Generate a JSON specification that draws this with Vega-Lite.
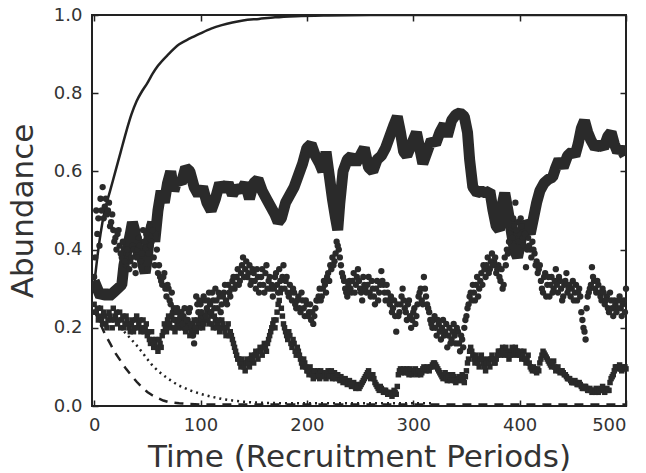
{
  "$schema": "https://vega.github.io/schema/vega-lite/v6.json",
  "width": 534,
  "height": 391,
  "autosize": {"type": "none"},
  "padding": {"left": 92, "top": 15, "right": 20, "bottom": 67},
  "background": "white",
  "config": {
    "view": {"stroke": "#222", "strokeWidth": 2},
    "axis": {
      "domain": false, "grid": false, "tickColor": "#222", "tickWidth": 1.5, "tickSize": -6,
      "labelFont": "DejaVu Sans", "labelFontSize": 18, "labelColor": "#333",
      "titleFont": "DejaVu Sans", "titleFontSize": 31, "titleFontWeight": "normal", "titleColor": "#333"
    }
  },
  "datasets": {
    "logistic": [
      {"t":0,"v":0.31},{"t":3,"v":0.38},{"t":6,"v":0.44},{"t":10,"v":0.50},{"t":15,"v":0.55},{"t":20,"v":0.60},{"t":25,"v":0.65},{"t":30,"v":0.70},{"t":35,"v":0.745},{"t":40,"v":0.78},{"t":45,"v":0.805},{"t":50,"v":0.826},{"t":55,"v":0.85},{"t":60,"v":0.87},{"t":70,"v":0.90},{"t":80,"v":0.925},{"t":90,"v":0.94},{"t":100,"v":0.953},{"t":110,"v":0.965},{"t":120,"v":0.974},{"t":130,"v":0.981},{"t":140,"v":0.986},{"t":155,"v":0.99},{"t":170,"v":0.994},{"t":190,"v":0.997},{"t":220,"v":0.999},{"t":260,"v":1.0},{"t":500,"v":1.0}
    ],
    "dashed": [
      {"t":0,"v":0.245},{"t":5,"v":0.215},{"t":10,"v":0.185},{"t":15,"v":0.16},{"t":20,"v":0.135},{"t":25,"v":0.115},{"t":30,"v":0.095},{"t":35,"v":0.078},{"t":40,"v":0.062},{"t":45,"v":0.048},{"t":50,"v":0.036},{"t":55,"v":0.027},{"t":60,"v":0.02},{"t":65,"v":0.014},{"t":70,"v":0.01},{"t":80,"v":0.007},{"t":90,"v":0.005},{"t":100,"v":0.004},{"t":150,"v":0.004},{"t":500,"v":0.004}
    ],
    "dotted": [
      {"t":0,"v":0.265},{"t":5,"v":0.255},{"t":10,"v":0.24},{"t":15,"v":0.228},{"t":20,"v":0.215},{"t":25,"v":0.2},{"t":30,"v":0.185},{"t":35,"v":0.17},{"t":40,"v":0.155},{"t":45,"v":0.138},{"t":50,"v":0.12},{"t":55,"v":0.103},{"t":60,"v":0.09},{"t":65,"v":0.079},{"t":70,"v":0.069},{"t":75,"v":0.06},{"t":80,"v":0.052},{"t":90,"v":0.04},{"t":100,"v":0.031},{"t":110,"v":0.024},{"t":120,"v":0.018},{"t":130,"v":0.014},{"t":140,"v":0.011},{"t":150,"v":0.009},{"t":160,"v":0.008},{"t":180,"v":0.007},{"t":200,"v":0.007},{"t":250,"v":0.007},{"t":320,"v":0.007}
    ],
    "thick": [
      {"t":0,"v":0.32},{"t":3,"v":0.30},{"t":6,"v":0.28},{"t":10,"v":0.29},{"t":14,"v":0.28},{"t":18,"v":0.29},{"t":22,"v":0.30},{"t":26,"v":0.31},{"t":28,"v":0.36},{"t":31,"v":0.40},{"t":34,"v":0.44},{"t":36,"v":0.47},{"t":38,"v":0.45},{"t":40,"v":0.42},{"t":42,"v":0.38},{"t":44,"v":0.40},{"t":46,"v":0.36},{"t":48,"v":0.34},{"t":50,"v":0.38},{"t":52,"v":0.44},{"t":55,"v":0.47},{"t":57,"v":0.42},{"t":60,"v":0.50},{"t":63,"v":0.55},{"t":66,"v":0.52},{"t":69,"v":0.57},{"t":72,"v":0.60},{"t":75,"v":0.55},{"t":78,"v":0.58},{"t":82,"v":0.57},{"t":86,"v":0.61},{"t":90,"v":0.60},{"t":94,"v":0.56},{"t":98,"v":0.54},{"t":102,"v":0.56},{"t":106,"v":0.52},{"t":110,"v":0.50},{"t":114,"v":0.53},{"t":118,"v":0.57},{"t":122,"v":0.55},{"t":126,"v":0.57},{"t":130,"v":0.54},{"t":134,"v":0.56},{"t":138,"v":0.55},{"t":142,"v":0.57},{"t":146,"v":0.53},{"t":150,"v":0.57},{"t":154,"v":0.58},{"t":158,"v":0.55},{"t":162,"v":0.53},{"t":166,"v":0.51},{"t":170,"v":0.49},{"t":173,"v":0.47},{"t":176,"v":0.48},{"t":180,"v":0.52},{"t":184,"v":0.54},{"t":188,"v":0.56},{"t":192,"v":0.59},{"t":196,"v":0.62},{"t":200,"v":0.66},{"t":204,"v":0.67},{"t":208,"v":0.64},{"t":212,"v":0.62},{"t":215,"v":0.60},{"t":218,"v":0.65},{"t":221,"v":0.59},{"t":224,"v":0.53},{"t":227,"v":0.48},{"t":229,"v":0.45},{"t":231,"v":0.52},{"t":234,"v":0.60},{"t":238,"v":0.63},{"t":242,"v":0.64},{"t":246,"v":0.62},{"t":250,"v":0.64},{"t":254,"v":0.66},{"t":258,"v":0.61},{"t":262,"v":0.60},{"t":266,"v":0.63},{"t":270,"v":0.64},{"t":274,"v":0.66},{"t":278,"v":0.69},{"t":282,"v":0.72},{"t":285,"v":0.74},{"t":288,"v":0.70},{"t":291,"v":0.65},{"t":294,"v":0.64},{"t":297,"v":0.66},{"t":300,"v":0.68},{"t":303,"v":0.70},{"t":306,"v":0.66},{"t":309,"v":0.62},{"t":313,"v":0.65},{"t":317,"v":0.68},{"t":321,"v":0.67},{"t":325,"v":0.70},{"t":329,"v":0.72},{"t":332,"v":0.69},{"t":336,"v":0.73},{"t":340,"v":0.745},{"t":344,"v":0.75},{"t":348,"v":0.74},{"t":351,"v":0.70},{"t":353,"v":0.63},{"t":356,"v":0.56},{"t":360,"v":0.545},{"t":364,"v":0.55},{"t":368,"v":0.545},{"t":372,"v":0.55},{"t":375,"v":0.50},{"t":378,"v":0.46},{"t":381,"v":0.45},{"t":384,"v":0.52},{"t":386,"v":0.545},{"t":389,"v":0.50},{"t":392,"v":0.45},{"t":395,"v":0.40},{"t":398,"v":0.38},{"t":401,"v":0.42},{"t":404,"v":0.47},{"t":407,"v":0.46},{"t":410,"v":0.44},{"t":413,"v":0.48},{"t":416,"v":0.52},{"t":419,"v":0.55},{"t":423,"v":0.57},{"t":427,"v":0.58},{"t":431,"v":0.585},{"t":434,"v":0.61},{"t":437,"v":0.63},{"t":441,"v":0.61},{"t":445,"v":0.64},{"t":449,"v":0.65},{"t":452,"v":0.64},{"t":455,"v":0.67},{"t":458,"v":0.71},{"t":461,"v":0.73},{"t":464,"v":0.70},{"t":467,"v":0.68},{"t":471,"v":0.66},{"t":475,"v":0.67},{"t":479,"v":0.66},{"t":483,"v":0.69},{"t":486,"v":0.70},{"t":489,"v":0.67},{"t":492,"v":0.65},{"t":495,"v":0.66},{"t":499,"v":0.64}
    ],
    "circles": [
      {"t":0,"v":0.33},{"t":1,"v":0.38},{"t":2,"v":0.50},{"t":3,"v":0.44},{"t":4,"v":0.48},{"t":5,"v":0.41},{"t":6,"v":0.53},{"t":7,"v":0.50},{"t":8,"v":0.56},{"t":9,"v":0.48},{"t":10,"v":0.51},{"t":12,"v":0.49},{"t":14,"v":0.52},{"t":16,"v":0.47},{"t":18,"v":0.45},{"t":20,"v":0.43},{"t":22,"v":0.44},{"t":24,"v":0.41},{"t":26,"v":0.38},{"t":28,"v":0.40},{"t":30,"v":0.36},{"t":32,"v":0.39},{"t":34,"v":0.37},{"t":36,"v":0.41},{"t":38,"v":0.36},{"t":40,"v":0.38},{"t":42,"v":0.43},{"t":44,"v":0.37},{"t":46,"v":0.45},{"t":48,"v":0.40},{"t":50,"v":0.35},{"t":52,"v":0.46},{"t":54,"v":0.42},{"t":56,"v":0.38},{"t":58,"v":0.44},{"t":60,"v":0.34},{"t":62,"v":0.33},{"t":64,"v":0.31},{"t":66,"v":0.34},{"t":68,"v":0.28},{"t":70,"v":0.30},{"t":72,"v":0.26},{"t":74,"v":0.24},{"t":76,"v":0.22},{"t":78,"v":0.25},{"t":80,"v":0.21},{"t":82,"v":0.24},{"t":84,"v":0.23},{"t":86,"v":0.20},{"t":88,"v":0.22},{"t":90,"v":0.25},{"t":92,"v":0.19},{"t":94,"v":0.16},{"t":96,"v":0.28},{"t":98,"v":0.24},{"t":100,"v":0.26},{"t":102,"v":0.23},{"t":104,"v":0.27},{"t":106,"v":0.25},{"t":108,"v":0.29},{"t":110,"v":0.24},{"t":112,"v":0.27},{"t":114,"v":0.30},{"t":116,"v":0.25},{"t":118,"v":0.28},{"t":120,"v":0.26},{"t":122,"v":0.29},{"t":124,"v":0.27},{"t":126,"v":0.31},{"t":128,"v":0.28},{"t":130,"v":0.32},{"t":132,"v":0.30},{"t":134,"v":0.33},{"t":136,"v":0.31},{"t":138,"v":0.34},{"t":140,"v":0.38},{"t":142,"v":0.35},{"t":144,"v":0.33},{"t":146,"v":0.36},{"t":148,"v":0.32},{"t":150,"v":0.34},{"t":152,"v":0.30},{"t":154,"v":0.33},{"t":156,"v":0.31},{"t":158,"v":0.35},{"t":160,"v":0.29},{"t":162,"v":0.36},{"t":164,"v":0.32},{"t":166,"v":0.30},{"t":168,"v":0.28},{"t":170,"v":0.33},{"t":172,"v":0.31},{"t":174,"v":0.35},{"t":176,"v":0.30},{"t":178,"v":0.36},{"t":180,"v":0.32},{"t":182,"v":0.29},{"t":184,"v":0.31},{"t":186,"v":0.27},{"t":188,"v":0.29},{"t":190,"v":0.25},{"t":192,"v":0.28},{"t":194,"v":0.24},{"t":196,"v":0.27},{"t":198,"v":0.23},{"t":200,"v":0.26},{"t":202,"v":0.24},{"t":204,"v":0.22},{"t":206,"v":0.21},{"t":208,"v":0.25},{"t":210,"v":0.27},{"t":212,"v":0.30},{"t":214,"v":0.28},{"t":216,"v":0.32},{"t":218,"v":0.29},{"t":220,"v":0.34},{"t":222,"v":0.36},{"t":224,"v":0.38},{"t":226,"v":0.37},{"t":228,"v":0.42},{"t":230,"v":0.40},{"t":232,"v":0.36},{"t":234,"v":0.33},{"t":236,"v":0.30},{"t":238,"v":0.28},{"t":240,"v":0.32},{"t":242,"v":0.29},{"t":244,"v":0.34},{"t":246,"v":0.31},{"t":248,"v":0.35},{"t":250,"v":0.30},{"t":252,"v":0.27},{"t":254,"v":0.31},{"t":256,"v":0.29},{"t":258,"v":0.33},{"t":260,"v":0.28},{"t":262,"v":0.30},{"t":264,"v":0.26},{"t":266,"v":0.32},{"t":268,"v":0.29},{"t":270,"v":0.345},{"t":272,"v":0.31},{"t":274,"v":0.27},{"t":276,"v":0.29},{"t":278,"v":0.26},{"t":280,"v":0.24},{"t":282,"v":0.27},{"t":284,"v":0.19},{"t":286,"v":0.23},{"t":288,"v":0.26},{"t":290,"v":0.30},{"t":292,"v":0.25},{"t":294,"v":0.22},{"t":296,"v":0.27},{"t":298,"v":0.20},{"t":300,"v":0.24},{"t":302,"v":0.21},{"t":304,"v":0.26},{"t":306,"v":0.29},{"t":308,"v":0.27},{"t":310,"v":0.33},{"t":312,"v":0.28},{"t":314,"v":0.25},{"t":316,"v":0.22},{"t":318,"v":0.20},{"t":320,"v":0.23},{"t":322,"v":0.18},{"t":324,"v":0.21},{"t":326,"v":0.17},{"t":328,"v":0.22},{"t":330,"v":0.19},{"t":332,"v":0.15},{"t":334,"v":0.20},{"t":336,"v":0.17},{"t":338,"v":0.21},{"t":340,"v":0.16},{"t":342,"v":0.19},{"t":344,"v":0.14},{"t":346,"v":0.17},{"t":348,"v":0.20},{"t":350,"v":0.23},{"t":352,"v":0.26},{"t":354,"v":0.29},{"t":356,"v":0.31},{"t":358,"v":0.27},{"t":360,"v":0.33},{"t":362,"v":0.30},{"t":364,"v":0.34},{"t":366,"v":0.36},{"t":368,"v":0.33},{"t":370,"v":0.38},{"t":372,"v":0.35},{"t":374,"v":0.39},{"t":376,"v":0.37},{"t":378,"v":0.34},{"t":380,"v":0.36},{"t":382,"v":0.32},{"t":384,"v":0.30},{"t":386,"v":0.38},{"t":388,"v":0.40},{"t":390,"v":0.42},{"t":392,"v":0.45},{"t":394,"v":0.48},{"t":396,"v":0.52},{"t":398,"v":0.47},{"t":400,"v":0.44},{"t":402,"v":0.46},{"t":404,"v":0.41},{"t":406,"v":0.355},{"t":408,"v":0.43},{"t":410,"v":0.40},{"t":412,"v":0.42},{"t":414,"v":0.39},{"t":416,"v":0.37},{"t":418,"v":0.35},{"t":420,"v":0.32},{"t":422,"v":0.29},{"t":424,"v":0.34},{"t":426,"v":0.31},{"t":428,"v":0.28},{"t":430,"v":0.33},{"t":432,"v":0.30},{"t":434,"v":0.35},{"t":436,"v":0.29},{"t":438,"v":0.32},{"t":440,"v":0.27},{"t":442,"v":0.31},{"t":444,"v":0.34},{"t":446,"v":0.30},{"t":448,"v":0.28},{"t":450,"v":0.32},{"t":452,"v":0.29},{"t":454,"v":0.27},{"t":456,"v":0.30},{"t":458,"v":0.24},{"t":460,"v":0.20},{"t":462,"v":0.17},{"t":464,"v":0.28},{"t":466,"v":0.30},{"t":468,"v":0.355},{"t":470,"v":0.32},{"t":472,"v":0.29},{"t":474,"v":0.31},{"t":476,"v":0.28},{"t":478,"v":0.30},{"t":480,"v":0.26},{"t":482,"v":0.28},{"t":484,"v":0.24},{"t":486,"v":0.27},{"t":488,"v":0.23},{"t":490,"v":0.26},{"t":492,"v":0.25},{"t":494,"v":0.28},{"t":496,"v":0.23},{"t":498,"v":0.27},{"t":500,"v":0.30},
      {"t":11,"v":0.53},{"t":13,"v":0.50},{"t":15,"v":0.46},{"t":17,"v":0.49},{"t":19,"v":0.42},{"t":21,"v":0.40},{"t":23,"v":0.45},{"t":25,"v":0.39},{"t":27,"v":0.42},{"t":29,"v":0.37},{"t":31,"v":0.40},{"t":33,"v":0.35},{"t":35,"v":0.38},{"t":37,"v":0.40},{"t":39,"v":0.34},{"t":41,"v":0.40},{"t":43,"v":0.41},{"t":45,"v":0.39},{"t":47,"v":0.42},{"t":49,"v":0.44},{"t":51,"v":0.39},{"t":53,"v":0.41},{"t":55,"v":0.45},{"t":57,"v":0.36},{"t":59,"v":0.40},{"t":61,"v":0.36},{"t":63,"v":0.32},{"t":65,"v":0.33},{"t":67,"v":0.30},{"t":69,"v":0.31},{"t":71,"v":0.27},{"t":73,"v":0.29},{"t":75,"v":0.25},{"t":77,"v":0.24},{"t":79,"v":0.22},{"t":81,"v":0.23},{"t":83,"v":0.21},{"t":85,"v":0.25},{"t":87,"v":0.22},{"t":89,"v":0.24},{"t":91,"v":0.21},{"t":93,"v":0.18},{"t":95,"v":0.20},{"t":97,"v":0.26},{"t":99,"v":0.27},{"t":101,"v":0.24},{"t":103,"v":0.28},{"t":105,"v":0.23},{"t":107,"v":0.27},{"t":109,"v":0.26},{"t":111,"v":0.29},{"t":113,"v":0.25},{"t":115,"v":0.27},{"t":117,"v":0.29},{"t":119,"v":0.24},{"t":121,"v":0.28},{"t":123,"v":0.31},{"t":125,"v":0.26},{"t":127,"v":0.29},{"t":129,"v":0.30},{"t":131,"v":0.33},{"t":133,"v":0.31},{"t":135,"v":0.35},{"t":137,"v":0.32},{"t":139,"v":0.36},{"t":141,"v":0.33},{"t":143,"v":0.37},{"t":145,"v":0.34},{"t":147,"v":0.31},{"t":149,"v":0.35},{"t":151,"v":0.32},{"t":153,"v":0.35},{"t":155,"v":0.29},{"t":157,"v":0.33},{"t":159,"v":0.31},{"t":161,"v":0.34},{"t":163,"v":0.30},{"t":165,"v":0.33},{"t":167,"v":0.31},{"t":169,"v":0.30},{"t":171,"v":0.34},{"t":173,"v":0.29},{"t":175,"v":0.32},{"t":177,"v":0.33},{"t":179,"v":0.30},{"t":181,"v":0.33},{"t":183,"v":0.28},{"t":185,"v":0.29},{"t":187,"v":0.30},{"t":189,"v":0.26},{"t":191,"v":0.27},{"t":193,"v":0.25},{"t":195,"v":0.29},{"t":197,"v":0.25},{"t":199,"v":0.27},{"t":201,"v":0.23},{"t":203,"v":0.26},{"t":205,"v":0.24},{"t":207,"v":0.23},{"t":209,"v":0.27},{"t":211,"v":0.28},{"t":213,"v":0.27},{"t":215,"v":0.30},{"t":217,"v":0.31},{"t":219,"v":0.33},{"t":221,"v":0.32},{"t":223,"v":0.35},{"t":225,"v":0.36},{"t":227,"v":0.39},{"t":229,"v":0.41},{"t":231,"v":0.38},{"t":233,"v":0.34},{"t":235,"v":0.32},{"t":237,"v":0.29},{"t":239,"v":0.31},{"t":241,"v":0.30},{"t":243,"v":0.32},{"t":245,"v":0.29},{"t":247,"v":0.33},{"t":249,"v":0.32},{"t":251,"v":0.29},{"t":253,"v":0.33},{"t":255,"v":0.30},{"t":257,"v":0.31},{"t":259,"v":0.29},{"t":261,"v":0.32},{"t":263,"v":0.28},{"t":265,"v":0.30},{"t":267,"v":0.27},{"t":269,"v":0.31},{"t":271,"v":0.32},{"t":273,"v":0.29},{"t":275,"v":0.31},{"t":277,"v":0.27},{"t":279,"v":0.28},{"t":281,"v":0.25},{"t":283,"v":0.23},{"t":285,"v":0.26},{"t":287,"v":0.24},{"t":289,"v":0.28},{"t":291,"v":0.27},{"t":293,"v":0.24},{"t":295,"v":0.26},{"t":297,"v":0.23},{"t":299,"v":0.22},{"t":301,"v":0.25},{"t":303,"v":0.23},{"t":305,"v":0.28},{"t":307,"v":0.30},{"t":309,"v":0.26},{"t":311,"v":0.30},{"t":313,"v":0.26},{"t":315,"v":0.24},{"t":317,"v":0.21},{"t":319,"v":0.22},{"t":321,"v":0.20},{"t":323,"v":0.22},{"t":325,"v":0.19},{"t":327,"v":0.20},{"t":329,"v":0.18},{"t":331,"v":0.21},{"t":333,"v":0.18},{"t":335,"v":0.16},{"t":337,"v":0.19},{"t":339,"v":0.18},{"t":341,"v":0.20},{"t":343,"v":0.16},{"t":345,"v":0.18},{"t":347,"v":0.15},{"t":349,"v":0.22},{"t":351,"v":0.25},{"t":353,"v":0.28},{"t":355,"v":0.27},{"t":357,"v":0.29},{"t":359,"v":0.31},{"t":361,"v":0.28},{"t":363,"v":0.32},{"t":365,"v":0.31},{"t":367,"v":0.35},{"t":369,"v":0.36},{"t":371,"v":0.34},{"t":373,"v":0.37},{"t":375,"v":0.36},{"t":377,"v":0.38},{"t":379,"v":0.35},{"t":381,"v":0.33},{"t":383,"v":0.35},{"t":385,"v":0.31},{"t":387,"v":0.36},{"t":389,"v":0.39},{"t":391,"v":0.44},{"t":393,"v":0.43},{"t":395,"v":0.46},{"t":397,"v":0.45},{"t":399,"v":0.42},{"t":401,"v":0.48},{"t":403,"v":0.43},{"t":405,"v":0.44},{"t":407,"v":0.40},{"t":409,"v":0.41},{"t":411,"v":0.38},{"t":413,"v":0.40},{"t":415,"v":0.36},{"t":417,"v":0.34},{"t":419,"v":0.36},{"t":421,"v":0.30},{"t":423,"v":0.33},{"t":425,"v":0.28},{"t":427,"v":0.33},{"t":429,"v":0.31},{"t":431,"v":0.29},{"t":433,"v":0.32},{"t":435,"v":0.31},{"t":437,"v":0.33},{"t":439,"v":0.30},{"t":441,"v":0.28},{"t":443,"v":0.32},{"t":445,"v":0.29},{"t":447,"v":0.31},{"t":449,"v":0.30},{"t":451,"v":0.27},{"t":453,"v":0.31},{"t":455,"v":0.29},{"t":457,"v":0.28},{"t":459,"v":0.22},{"t":461,"v":0.19},{"t":463,"v":0.25},{"t":465,"v":0.29},{"t":467,"v":0.31},{"t":469,"v":0.33},{"t":471,"v":0.30},{"t":473,"v":0.32},{"t":475,"v":0.29},{"t":477,"v":0.27},{"t":479,"v":0.29},{"t":481,"v":0.27},{"t":483,"v":0.25},{"t":485,"v":0.29},{"t":487,"v":0.25},{"t":489,"v":0.27},{"t":491,"v":0.24},{"t":493,"v":0.27},{"t":495,"v":0.25},{"t":497,"v":0.26},{"t":499,"v":0.24}
    ],
    "squares": [
      {"t":0,"v":0.26},{"t":2,"v":0.24},{"t":4,"v":0.22},{"t":6,"v":0.25},{"t":8,"v":0.21},{"t":10,"v":0.23},{"t":12,"v":0.20},{"t":14,"v":0.24},{"t":16,"v":0.22},{"t":18,"v":0.25},{"t":20,"v":0.23},{"t":22,"v":0.21},{"t":24,"v":0.24},{"t":26,"v":0.22},{"t":28,"v":0.20},{"t":30,"v":0.23},{"t":32,"v":0.21},{"t":34,"v":0.19},{"t":36,"v":0.22},{"t":38,"v":0.20},{"t":40,"v":0.23},{"t":42,"v":0.21},{"t":44,"v":0.19},{"t":46,"v":0.22},{"t":48,"v":0.20},{"t":50,"v":0.18},{"t":52,"v":0.17},{"t":54,"v":0.19},{"t":56,"v":0.15},{"t":58,"v":0.17},{"t":60,"v":0.14},{"t":62,"v":0.16},{"t":64,"v":0.18},{"t":66,"v":0.21},{"t":68,"v":0.19},{"t":70,"v":0.23},{"t":72,"v":0.20},{"t":74,"v":0.22},{"t":76,"v":0.19},{"t":78,"v":0.21},{"t":80,"v":0.24},{"t":82,"v":0.20},{"t":84,"v":0.22},{"t":86,"v":0.19},{"t":88,"v":0.21},{"t":90,"v":0.18},{"t":92,"v":0.20},{"t":94,"v":0.22},{"t":96,"v":0.19},{"t":98,"v":0.21},{"t":100,"v":0.23},{"t":102,"v":0.20},{"t":104,"v":0.22},{"t":106,"v":0.24},{"t":108,"v":0.21},{"t":110,"v":0.23},{"t":112,"v":0.20},{"t":114,"v":0.22},{"t":116,"v":0.21},{"t":118,"v":0.19},{"t":120,"v":0.22},{"t":122,"v":0.20},{"t":124,"v":0.18},{"t":126,"v":0.21},{"t":128,"v":0.19},{"t":130,"v":0.17},{"t":132,"v":0.15},{"t":134,"v":0.13},{"t":136,"v":0.12},{"t":138,"v":0.10},{"t":140,"v":0.11},{"t":142,"v":0.09},{"t":144,"v":0.12},{"t":146,"v":0.10},{"t":148,"v":0.13},{"t":150,"v":0.11},{"t":152,"v":0.14},{"t":154,"v":0.12},{"t":156,"v":0.15},{"t":158,"v":0.13},{"t":160,"v":0.16},{"t":162,"v":0.14},{"t":164,"v":0.17},{"t":166,"v":0.19},{"t":168,"v":0.21},{"t":170,"v":0.20},{"t":172,"v":0.24},{"t":174,"v":0.27},{"t":176,"v":0.25},{"t":178,"v":0.21},{"t":180,"v":0.19},{"t":182,"v":0.17},{"t":184,"v":0.18},{"t":186,"v":0.15},{"t":188,"v":0.16},{"t":190,"v":0.13},{"t":192,"v":0.14},{"t":194,"v":0.12},{"t":196,"v":0.10},{"t":198,"v":0.11},{"t":200,"v":0.09},{"t":202,"v":0.08},{"t":204,"v":0.09},{"t":206,"v":0.07},{"t":208,"v":0.08},{"t":210,"v":0.09},{"t":212,"v":0.07},{"t":214,"v":0.085},{"t":216,"v":0.08},{"t":218,"v":0.07},{"t":220,"v":0.09},{"t":222,"v":0.08},{"t":224,"v":0.07},{"t":226,"v":0.085},{"t":228,"v":0.08},{"t":230,"v":0.07},{"t":232,"v":0.075},{"t":234,"v":0.06},{"t":236,"v":0.07},{"t":238,"v":0.055},{"t":240,"v":0.065},{"t":242,"v":0.05},{"t":244,"v":0.06},{"t":246,"v":0.045},{"t":248,"v":0.055},{"t":250,"v":0.05},{"t":252,"v":0.06},{"t":254,"v":0.07},{"t":256,"v":0.08},{"t":258,"v":0.09},{"t":260,"v":0.07},{"t":262,"v":0.08},{"t":264,"v":0.06},{"t":266,"v":0.05},{"t":268,"v":0.04},{"t":270,"v":0.045},{"t":272,"v":0.035},{"t":274,"v":0.04},{"t":276,"v":0.03},{"t":278,"v":0.035},{"t":280,"v":0.025},{"t":282,"v":0.04},{"t":284,"v":0.03},{"t":286,"v":0.08},{"t":288,"v":0.095},{"t":290,"v":0.09},{"t":292,"v":0.085},{"t":294,"v":0.095},{"t":296,"v":0.08},{"t":298,"v":0.09},{"t":300,"v":0.085},{"t":302,"v":0.095},{"t":304,"v":0.08},{"t":306,"v":0.09},{"t":308,"v":0.085},{"t":310,"v":0.1},{"t":312,"v":0.09},{"t":314,"v":0.095},{"t":316,"v":0.1},{"t":318,"v":0.105},{"t":320,"v":0.11},{"t":322,"v":0.1},{"t":324,"v":0.09},{"t":326,"v":0.08},{"t":328,"v":0.07},{"t":330,"v":0.085},{"t":332,"v":0.065},{"t":334,"v":0.08},{"t":336,"v":0.07},{"t":338,"v":0.075},{"t":340,"v":0.06},{"t":342,"v":0.07},{"t":344,"v":0.065},{"t":346,"v":0.08},{"t":348,"v":0.06},{"t":350,"v":0.09},{"t":352,"v":0.12},{"t":354,"v":0.15},{"t":356,"v":0.13},{"t":358,"v":0.11},{"t":360,"v":0.12},{"t":362,"v":0.10},{"t":364,"v":0.13},{"t":366,"v":0.11},{"t":368,"v":0.09},{"t":370,"v":0.12},{"t":372,"v":0.10},{"t":374,"v":0.13},{"t":376,"v":0.11},{"t":378,"v":0.12},{"t":380,"v":0.14},{"t":382,"v":0.13},{"t":384,"v":0.15},{"t":386,"v":0.13},{"t":388,"v":0.14},{"t":390,"v":0.12},{"t":392,"v":0.14},{"t":394,"v":0.13},{"t":396,"v":0.15},{"t":398,"v":0.14},{"t":400,"v":0.13},{"t":402,"v":0.12},{"t":404,"v":0.14},{"t":406,"v":0.11},{"t":408,"v":0.13},{"t":410,"v":0.10},{"t":412,"v":0.09},{"t":414,"v":0.095},{"t":416,"v":0.085},{"t":418,"v":0.09},{"t":420,"v":0.12},{"t":422,"v":0.14},{"t":424,"v":0.13},{"t":426,"v":0.12},{"t":428,"v":0.11},{"t":430,"v":0.10},{"t":432,"v":0.115},{"t":434,"v":0.09},{"t":436,"v":0.1},{"t":438,"v":0.085},{"t":440,"v":0.09},{"t":442,"v":0.08},{"t":444,"v":0.075},{"t":446,"v":0.07},{"t":448,"v":0.065},{"t":450,"v":0.06},{"t":452,"v":0.065},{"t":454,"v":0.055},{"t":456,"v":0.06},{"t":458,"v":0.05},{"t":460,"v":0.045},{"t":462,"v":0.05},{"t":464,"v":0.04},{"t":466,"v":0.045},{"t":468,"v":0.035},{"t":470,"v":0.04},{"t":472,"v":0.045},{"t":474,"v":0.035},{"t":476,"v":0.04},{"t":478,"v":0.05},{"t":480,"v":0.035},{"t":482,"v":0.045},{"t":484,"v":0.04},{"t":486,"v":0.07},{"t":488,"v":0.08},{"t":490,"v":0.1},{"t":492,"v":0.095},{"t":494,"v":0.105},{"t":496,"v":0.09},{"t":498,"v":0.1},{"t":500,"v":0.095},
      {"t":1,"v":0.24},{"t":3,"v":0.25},{"t":5,"v":0.23},{"t":7,"v":0.22},{"t":9,"v":0.24},{"t":11,"v":0.21},{"t":13,"v":0.22},{"t":15,"v":0.23},{"t":17,"v":0.20},{"t":19,"v":0.22},{"t":21,"v":0.24},{"t":23,"v":0.22},{"t":25,"v":0.20},{"t":27,"v":0.23},{"t":29,"v":0.21},{"t":31,"v":0.22},{"t":33,"v":0.20},{"t":35,"v":0.21},{"t":37,"v":0.19},{"t":39,"v":0.22},{"t":41,"v":0.20},{"t":43,"v":0.22},{"t":45,"v":0.20},{"t":47,"v":0.19},{"t":49,"v":0.21},{"t":51,"v":0.19},{"t":53,"v":0.16},{"t":55,"v":0.17},{"t":57,"v":0.16},{"t":59,"v":0.15},{"t":61,"v":0.17},{"t":63,"v":0.15},{"t":65,"v":0.19},{"t":67,"v":0.20},{"t":69,"v":0.22},{"t":71,"v":0.21},{"t":73,"v":0.23},{"t":75,"v":0.20},{"t":77,"v":0.22},{"t":79,"v":0.20},{"t":81,"v":0.22},{"t":83,"v":0.21},{"t":85,"v":0.20},{"t":87,"v":0.22},{"t":89,"v":0.20},{"t":91,"v":0.19},{"t":93,"v":0.21},{"t":95,"v":0.20},{"t":97,"v":0.22},{"t":99,"v":0.20},{"t":101,"v":0.22},{"t":103,"v":0.21},{"t":105,"v":0.23},{"t":107,"v":0.22},{"t":109,"v":0.24},{"t":111,"v":0.21},{"t":113,"v":0.23},{"t":115,"v":0.20},{"t":117,"v":0.22},{"t":119,"v":0.20},{"t":121,"v":0.21},{"t":123,"v":0.19},{"t":125,"v":0.20},{"t":127,"v":0.18},{"t":129,"v":0.18},{"t":131,"v":0.16},{"t":133,"v":0.14},{"t":135,"v":0.12},{"t":137,"v":0.11},{"t":139,"v":0.12},{"t":141,"v":0.10},{"t":143,"v":0.11},{"t":145,"v":0.11},{"t":147,"v":0.12},{"t":149,"v":0.12},{"t":151,"v":0.13},{"t":153,"v":0.13},{"t":155,"v":0.14},{"t":157,"v":0.14},{"t":159,"v":0.15},{"t":161,"v":0.15},{"t":163,"v":0.16},{"t":165,"v":0.18},{"t":167,"v":0.20},{"t":169,"v":0.22},{"t":171,"v":0.22},{"t":173,"v":0.26},{"t":175,"v":0.29},{"t":177,"v":0.23},{"t":179,"v":0.20},{"t":181,"v":0.18},{"t":183,"v":0.19},{"t":185,"v":0.16},{"t":187,"v":0.17},{"t":189,"v":0.14},{"t":191,"v":0.15},{"t":193,"v":0.13},{"t":195,"v":0.11},{"t":197,"v":0.12},{"t":199,"v":0.10},{"t":201,"v":0.09},{"t":203,"v":0.10},{"t":205,"v":0.08},{"t":207,"v":0.09},{"t":209,"v":0.075},{"t":211,"v":0.08},{"t":213,"v":0.09},{"t":215,"v":0.075},{"t":217,"v":0.085},{"t":219,"v":0.08},{"t":221,"v":0.075},{"t":223,"v":0.09},{"t":225,"v":0.075},{"t":227,"v":0.07},{"t":229,"v":0.08},{"t":231,"v":0.065},{"t":233,"v":0.07},{"t":235,"v":0.065},{"t":237,"v":0.06},{"t":239,"v":0.06},{"t":241,"v":0.055},{"t":243,"v":0.055},{"t":245,"v":0.05},{"t":247,"v":0.05},{"t":249,"v":0.045},{"t":251,"v":0.055},{"t":253,"v":0.065},{"t":255,"v":0.075},{"t":257,"v":0.085},{"t":259,"v":0.08},{"t":261,"v":0.075},{"t":263,"v":0.07},{"t":265,"v":0.055},{"t":267,"v":0.045},{"t":269,"v":0.05},{"t":271,"v":0.04},{"t":273,"v":0.04},{"t":275,"v":0.035},{"t":277,"v":0.03},{"t":279,"v":0.03},{"t":281,"v":0.03},{"t":283,"v":0.035},{"t":285,"v":0.05},{"t":287,"v":0.09},{"t":289,"v":0.085},{"t":291,"v":0.095},{"t":293,"v":0.09},{"t":295,"v":0.085},{"t":297,"v":0.095},{"t":299,"v":0.08},{"t":301,"v":0.09},{"t":303,"v":0.085},{"t":305,"v":0.09},{"t":307,"v":0.08},{"t":309,"v":0.095},{"t":311,"v":0.095},{"t":313,"v":0.1},{"t":315,"v":0.09},{"t":317,"v":0.1},{"t":319,"v":0.11},{"t":321,"v":0.105},{"t":323,"v":0.095},{"t":325,"v":0.085},{"t":327,"v":0.075},{"t":329,"v":0.08},{"t":331,"v":0.07},{"t":333,"v":0.075},{"t":335,"v":0.065},{"t":337,"v":0.08},{"t":339,"v":0.065},{"t":341,"v":0.065},{"t":343,"v":0.075},{"t":345,"v":0.07},{"t":347,"v":0.065},{"t":349,"v":0.075},{"t":351,"v":0.11},{"t":353,"v":0.14},{"t":355,"v":0.14},{"t":357,"v":0.12},{"t":359,"v":0.13},{"t":361,"v":0.11},{"t":363,"v":0.12},{"t":365,"v":0.12},{"t":367,"v":0.10},{"t":369,"v":0.11},{"t":371,"v":0.11},{"t":373,"v":0.12},{"t":375,"v":0.12},{"t":377,"v":0.11},{"t":379,"v":0.13},{"t":381,"v":0.14},{"t":383,"v":0.14},{"t":385,"v":0.14},{"t":387,"v":0.15},{"t":389,"v":0.13},{"t":391,"v":0.13},{"t":393,"v":0.15},{"t":395,"v":0.14},{"t":397,"v":0.14},{"t":399,"v":0.13},{"t":401,"v":0.14},{"t":403,"v":0.13},{"t":405,"v":0.12},{"t":407,"v":0.12},{"t":409,"v":0.11},{"t":411,"v":0.095},{"t":413,"v":0.1},{"t":415,"v":0.09},{"t":417,"v":0.095},{"t":419,"v":0.11},{"t":421,"v":0.13},{"t":423,"v":0.135},{"t":425,"v":0.125},{"t":427,"v":0.115},{"t":429,"v":0.105},{"t":431,"v":0.11},{"t":433,"v":0.1},{"t":435,"v":0.095},{"t":437,"v":0.09},{"t":439,"v":0.09},{"t":441,"v":0.085},{"t":443,"v":0.08},{"t":445,"v":0.07},{"t":447,"v":0.07},{"t":449,"v":0.06},{"t":451,"v":0.06},{"t":453,"v":0.06},{"t":455,"v":0.055},{"t":457,"v":0.055},{"t":459,"v":0.045},{"t":461,"v":0.05},{"t":463,"v":0.045},{"t":465,"v":0.04},{"t":467,"v":0.04},{"t":469,"v":0.04},{"t":471,"v":0.035},{"t":473,"v":0.04},{"t":475,"v":0.04},{"t":477,"v":0.045},{"t":479,"v":0.04},{"t":481,"v":0.04},{"t":483,"v":0.04},{"t":485,"v":0.06},{"t":487,"v":0.075},{"t":489,"v":0.09},{"t":491,"v":0.1},{"t":493,"v":0.1},{"t":495,"v":0.095},{"t":497,"v":0.095},{"t":499,"v":0.1}
    ]
  },
  "resolve": {"axis": {"x": "independent", "y": "independent"}},
  "layer": [
    {
      "data": {"name": "dashed"},
      "mark": {"type": "line", "color": "#222", "strokeWidth": 2.5, "strokeDash": [9, 7], "clip": true},
      "encoding": {
        "x": {"field": "t", "type": "quantitative", "scale": {"domain": [-2, 500], "nice": false, "zero": false},
              "axis": {"orient": "bottom", "values": [0, 100, 200, 300, 400, 500], "labelPadding": 16, "title": "Time (Recruitment Periods)", "titlePadding": 8}},
        "y": {"field": "v", "type": "quantitative", "scale": {"domain": [0, 1], "nice": false},
              "axis": {"orient": "left", "values": [0, 0.2, 0.4, 0.6, 0.8, 1.0], "format": ".1f", "labelPadding": 16, "title": "Abundance", "titlePadding": 14}}
      }
    },
    {
      "data": {"name": "dotted"},
      "mark": {"type": "line", "color": "#222", "strokeWidth": 2.5, "strokeDash": [2, 4], "clip": true},
      "encoding": {
        "x": {"field": "t", "type": "quantitative", "scale": {"domain": [-2, 500], "nice": false, "zero": false},
              "axis": {"orient": "top", "values": [0, 100, 200, 300, 400, 500], "labels": false, "title": null}},
        "y": {"field": "v", "type": "quantitative", "scale": {"domain": [0, 1], "nice": false},
              "axis": {"orient": "right", "values": [0.2, 0.4, 0.6, 0.8], "labels": false, "title": null}}
      }
    },
    {
      "data": {"name": "logistic"},
      "mark": {"type": "line", "color": "#222", "strokeWidth": 2.5, "interpolate": "monotone", "clip": true},
      "encoding": {
        "x": {"field": "t", "type": "quantitative", "axis": null},
        "y": {"field": "v", "type": "quantitative", "axis": null}
      }
    },
    {
      "data": {"name": "thick"},
      "mark": {"type": "line", "color": "#2a2a2a", "strokeWidth": 11, "strokeJoin": "bevel", "clip": true},
      "encoding": {
        "x": {"field": "t", "type": "quantitative", "axis": null},
        "y": {"field": "v", "type": "quantitative", "axis": null}
      }
    },
    {
      "data": {"name": "squares"},
      "mark": {"type": "point", "shape": "square", "filled": true, "color": "#2a2a2a", "size": 30, "opacity": 1},
      "encoding": {
        "x": {"field": "t", "type": "quantitative", "axis": null},
        "y": {"field": "v", "type": "quantitative", "axis": null}
      }
    },
    {
      "data": {"name": "circles"},
      "mark": {"type": "circle", "color": "#2a2a2a", "size": 40, "opacity": 1},
      "encoding": {
        "x": {"field": "t", "type": "quantitative", "axis": null},
        "y": {"field": "v", "type": "quantitative", "axis": null}
      }
    }
  ]
}
